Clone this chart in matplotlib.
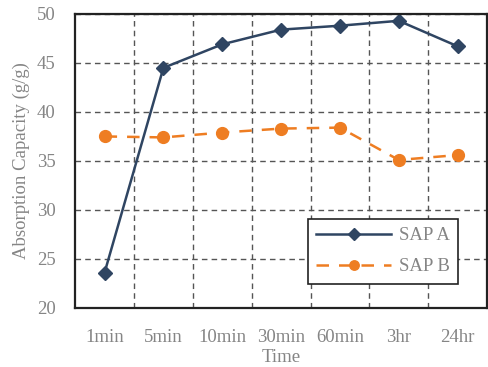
import matplotlib
matplotlib.use("Agg")
import matplotlib.pyplot as plt

# Sampling times and absorption capacity (g/g)
times = ["1min", "5min", "10min", "30min", "60min", "3hr", "24hr"]
sap_a = [23.6, 44.5, 46.9, 48.4, 48.8, 49.3, 46.7]
sap_b = [37.5, 37.4, 37.9, 38.3, 38.4, 35.1, 35.6]
y_ticks = [20, 25, 30, 35, 40, 45, 50]

navy = "#2F4562"
orange = "#EE7D22"
grey_text = "#858585"

plt.rcParams["font.family"] = ["Liberation Serif", "DejaVu Serif"]

fig = plt.figure(figsize=(4.88, 3.67), dpi=100)
ax = fig.add_axes([0.154, 0.161, 0.844, 0.801])

x = list(range(len(times)))
ax.plot(x, sap_a, color=navy, lw=1.8, marker="D", ms=7.5, label="SAP A")
ax.plot(x, sap_b, color=orange, lw=1.8, ls=(0, (5, 4)), marker="o", ms=8.5,
        label="SAP B")

ax.set_xlim(-0.5, len(times) - 0.5)
ax.set_ylim(20, 50)
ax.set_yticks(y_ticks)
ax.set_xticks(x)
ax.set_xticklabels(times)

# Grid lines sit between categories on the x axis
ax.set_xticks([i + 0.5 for i in x[:-1]], minor=True)
ax.grid(False)
ax.grid(which="minor", axis="x", color="#555555", ls=(0, (4, 3)), lw=1.0)
ax.grid(which="major", axis="y", color="#555555", ls=(0, (4, 3)), lw=1.0)
ax.tick_params(which="both", length=0)
ax.tick_params(axis="y", pad=14, labelsize=13.5, labelcolor=grey_text)
ax.tick_params(axis="x", pad=15, labelsize=13.5, labelcolor=grey_text)

for s in ax.spines.values():
    s.set_linewidth(1.6)
    s.set_color("#222222")

ax.set_xlabel("Time", fontsize=13.5, color=grey_text, labelpad=2)
ax.set_ylabel("Absorption Capacity (g/g)", fontsize=13.5, color=grey_text,
              labelpad=5)

leg = ax.legend(loc="lower right", bbox_to_anchor=(0.93, 0.082),
                borderaxespad=0, fontsize=13.5, frameon=True, fancybox=False,
                framealpha=1, edgecolor="#222222", handlelength=4.0,
                handletextpad=0.4, borderpad=0.45, labelspacing=0.75,
                markerscale=0.8)
leg.get_frame().set_linewidth(1.2)
for t in leg.get_texts():
    t.set_color(grey_text)

fig.savefig("out.png", dpi=100)
